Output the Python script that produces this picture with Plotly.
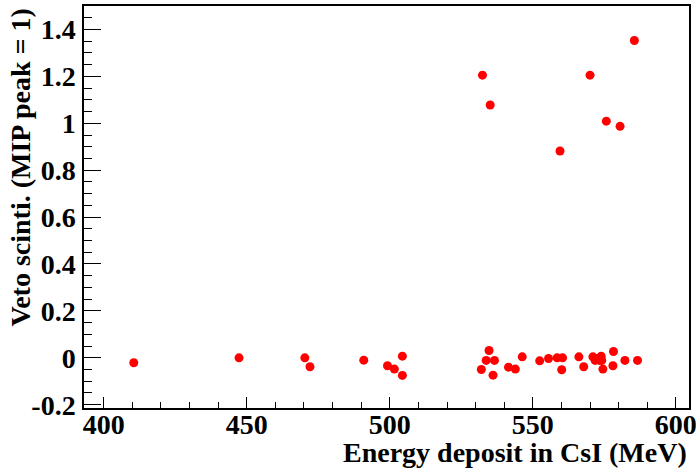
import plotly.graph_objects as go

# Energy deposit in CsI (MeV) and veto scintillator response (MIP peak = 1)
energy = [585.5, 532.4, 570.0, 535.1, 575.7, 580.5, 559.5,
          410.5, 447.3, 470.3, 472.1, 490.9, 499.2, 501.6, 504.4, 504.4,
          532.0, 534.7, 533.7, 536.6, 536.1, 541.5, 543.9, 546.3, 552.4,
          555.5, 558.5, 560.4, 560.1, 566.1, 567.8, 571.0, 571.8, 573.3,
          573.9, 574.1, 574.5, 578.2, 578.0, 582.2, 586.6, 572.5]
veto = [1.353, 1.205, 1.205, 1.078, 1.009, 0.987, 0.882,
        -0.021, 0.0, 0.0, -0.038, -0.010, -0.034, -0.048, 0.007, -0.075,
        -0.050, 0.031, -0.011, -0.011, -0.074, -0.040, -0.048, 0.004, -0.013,
        -0.003, 0.0, 0.0, -0.051, 0.004, -0.038, 0.004, -0.011, -0.011,
        0.007, -0.011, -0.048, 0.027, -0.034, -0.011, -0.011, -0.003]

x_ticks = [400, 450, 500, 550, 600]
y_ticks = [-0.2, 0, 0.2, 0.4, 0.6, 0.8, 1, 1.2, 1.4]
y_ticktext = ["-0.2", "0", "0.2", "0.4", "0.6", "0.8", "1", "1.2", "1.4"]

font_family = "Liberation Serif"
FS = 28

fig = go.Figure()
fig.add_trace(go.Scatter(
    x=energy, y=veto, mode="markers",
    marker=dict(color="#ff0000", size=9, line=dict(width=0)),
    showlegend=False,
))

fig.update_layout(
    width=696, height=470,
    margin=dict(l=84, r=7, t=6, b=62, autoexpand=False),
    paper_bgcolor="white", plot_bgcolor="white",
    font=dict(family=font_family, size=FS, color="black"),
    xaxis=dict(
        range=[393.1, 604.6],
        tickmode="array", tickvals=x_ticks, ticktext=[str(v) for v in x_ticks],
        ticks="inside", ticklen=11, tickwidth=1, tickcolor="black",
        minor=dict(tickmode="linear", tick0=400, dtick=10, ticks="inside",
                   ticklen=6, tickcolor="black", tickwidth=1),
        showgrid=False, zeroline=False,
        showline=True, linecolor="black", linewidth=1.5, mirror=True,
        tickfont=dict(family=font_family, size=FS, color="black", weight="bold"),
        ticklabelstandoff=-9,
        ticklabeloverflow="allow",
    ),
    yaxis=dict(
        range=[-0.214, 1.5],
        tickmode="array", tickvals=y_ticks, ticktext=y_ticktext,
        ticks="inside", ticklen=17, tickwidth=1, tickcolor="black",
        minor=dict(tickmode="linear", tick0=0, dtick=0.05, ticks="inside",
                   ticklen=8, tickcolor="black", tickwidth=1),
        showgrid=False, zeroline=False,
        showline=True, linecolor="black", linewidth=1.5, mirror=True,
        tickfont=dict(family=font_family, size=FS, color="black", weight="bold"),
        ticklabelstandoff=1,
        ticklabeloverflow="allow",
    ),
    annotations=[
        dict(text="<b>Energy deposit in CsI (MeV)</b>", xref="paper", yref="paper",
             x=1.0, y=-0.068, xanchor="right", yanchor="top", showarrow=False,
             font=dict(family=font_family, size=FS, color="black")),
        dict(text="<b>Veto scinti. (MIP peak = 1)</b>", xref="paper", yref="paper",
             x=-0.105, y=1.0, xanchor="center", yanchor="top", showarrow=False,
             textangle=-90,
             font=dict(family=font_family, size=FS, color="black")),
    ],
)

fig.write_html("out.html", config={"displayModeBar": False},
               post_script="document.body.style.margin='0';document.body.style.overflow='hidden';")
